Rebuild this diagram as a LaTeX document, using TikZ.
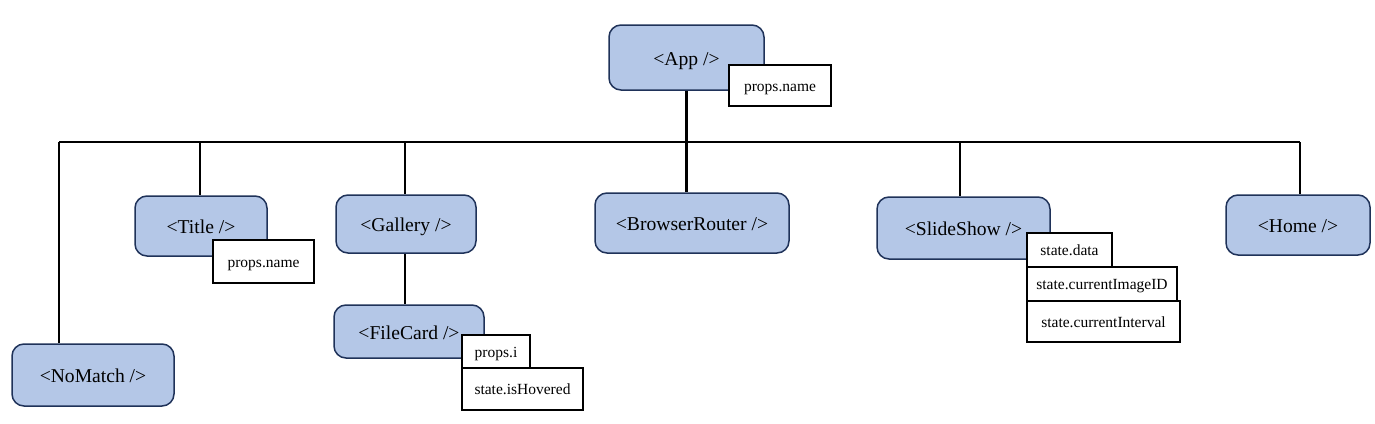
\documentclass[tikz,border=0pt]{standalone}
\usepackage{fontspec}
\setmainfont{Liberation Serif}
\definecolor{compfill}{HTML}{B4C7E7}
\definecolor{compdraw}{HTML}{1F3259}
\begin{document}
\begin{tikzpicture}[x=1pt,y=-1pt,
  comp/.style={draw=compdraw, fill=compfill, line width=1.5pt, rounded corners=12pt,
    inner sep=0pt, text height=15.4pt, text depth=0pt, font=\fontsize{19.6}{22}\selectfont},
  prop/.style={draw=black, fill=white, line width=1.1pt, inner sep=0pt,
    text height=11.6pt, text depth=0pt, font=\fontsize{15.5}{18}\selectfont},
  wire/.style={draw=black, line width=2.6pt}]
\useasboundingbox (0,0) rectangle (1375,423);

% bus coordinates
\coordinate (busL) at (59,142);
\coordinate (busR) at (1300,142);

% components
\node[comp, minimum width=155pt, minimum height=65pt] (app) at (686.5,57.5) {<App />};
\node[comp, minimum width=162pt, minimum height=62pt] (nm) at (93,375) {<NoMatch />};
\node[comp, minimum width=132pt, minimum height=60pt] (title) at (201,226) {<Title />};
\node[comp, minimum width=140pt, minimum height=58pt] (gal) at (406,224) {<Gallery />};
\node[comp, minimum width=150pt, minimum height=53pt] (fc) at (409,331.5) {<FileCard />};
\node[comp, minimum width=194pt, minimum height=60pt] (br) at (692,223) {<BrowserRouter />};
\node[comp, minimum width=173pt, minimum height=62pt] (ss) at (963.5,228) {<SlideShow />};
\node[comp, minimum width=144pt, minimum height=60pt] (home) at (1298,225) {<Home />};

% connectors
\coordinate (appBus) at (app.south |- busL);
\draw[wire] (app.south) -- (appBus);
\draw[wire] (busL) -- (busR);
\draw[wire] (busL) -- (busL |- nm.north);
\coordinate (tBus) at (200,142);
\draw[wire] (tBus) -- (tBus |- title.north);
\coordinate (gBus) at (405,142);
\draw[wire] (gBus) -- (gBus |- gal.north);
\draw[wire] (gal.south -| gBus) -- (fc.north -| gBus);
\draw[wire] (appBus) -- (appBus |- br.north);
\coordinate (sBus) at (960,142);
\draw[wire] (sBus) -- (sBus |- ss.north);
\draw[wire] (busR) -- (busR |- home.north);

% props / state boxes
\node[prop, minimum width=102pt, minimum height=41pt] (appP) at (780,85.5) {props.name};
\node[prop, minimum width=101pt, minimum height=43pt] (titleP) at (263.5,261.5) {props.name};
\node[prop, minimum width=68pt, minimum height=33pt] (fcP) at (496,351.5) {props.i};
\node[prop, minimum width=121pt, minimum height=42pt] (fcS) at (522.5,389) {state.isHovered};
\node[prop, minimum width=85pt, minimum height=34pt] (ssD) at (1069.5,250) {state.data};
\node[prop, minimum width=150pt, minimum height=34pt] (ssI) at (1102,284) {state.currentImageID};
\node[prop, minimum width=153pt, minimum height=41pt] (ssT) at (1103.5,321.5) {state.currentInterval};
\end{tikzpicture}
\end{document}
